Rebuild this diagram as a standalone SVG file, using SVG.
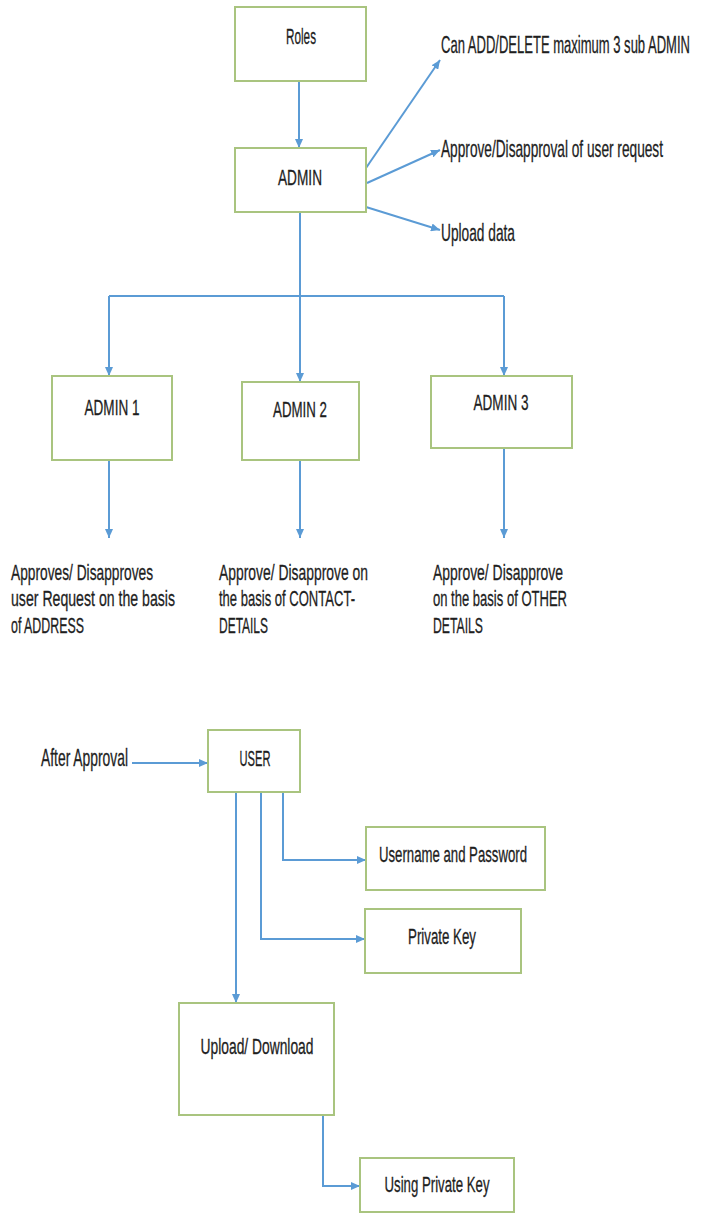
<svg xmlns="http://www.w3.org/2000/svg" width="707" height="1224" viewBox="0 0 707 1224">
<style>
.box{fill:#fff;stroke:#a9c47f;stroke-width:2}
.conn{fill:none;stroke:#5b9bd5;stroke-width:2}
.arr{marker-end:url(#ah)}
text{font-family:"Liberation Sans",Arial,sans-serif;font-size:22px;fill:#1e1e1e;stroke:#1e1e1e;stroke-width:0.3}
.c{text-anchor:middle}
.big{font-size:24px}
.d{font-size:22px}
</style>
<defs>
<marker id="ah" markerWidth="9" markerHeight="8" refX="9" refY="4" orient="auto" markerUnits="userSpaceOnUse">
<path d="M0,0 L9,4 L0,8 Z" fill="#5b9bd5"/>
</marker>
</defs>
<g id="connectors">
<path class="conn arr" d="M299 81 V148"/>
<path class="conn arr" d="M366 168 L440 60"/>
<path class="conn arr" d="M367 183 L440 150"/>
<path class="conn arr" d="M366 207 L440 230"/>
<path class="conn" d="M300 212 V296 M109 296 H504"/>
<path class="conn arr" d="M109 296 V376"/>
<path class="conn arr" d="M300 296 V382"/>
<path class="conn arr" d="M504 296 V376"/>
<path class="conn arr" d="M109 460 V538"/>
<path class="conn arr" d="M300 460 V538"/>
<path class="conn arr" d="M504 448 V538"/>
<path class="conn arr" d="M132 763 H208"/>
<path class="conn arr" d="M236 792 V1003"/>
<path class="conn arr" d="M249 792 H261 V939 H365"/>
<path class="conn arr" d="M283 792 V860 H366"/>
<path class="conn arr" d="M288 1115 H323 V1186 H360"/>
</g>
<g id="roles"><rect class="box" x="235" y="7" width="131" height="74"/><text class="c" transform="translate(301,44) scale(0.65,1)" textLength="46.2" lengthAdjust="spacingAndGlyphs">Roles</text></g>
<g id="admin"><rect class="box" x="235" y="148" width="131" height="64"/><text class="c" transform="translate(300,185) scale(0.65,1)" textLength="67.7" lengthAdjust="spacingAndGlyphs">ADMIN</text></g>
<g id="lbl-add"><text class="big" transform="translate(441,53) scale(0.55,1)" textLength="452.7" lengthAdjust="spacingAndGlyphs">Can ADD/DELETE maximum 3 sub ADMIN</text></g>
<g id="lbl-approve"><text class="big" transform="translate(441,157) scale(0.6,1)" textLength="370" lengthAdjust="spacingAndGlyphs">Approve/Disapproval of user request</text></g>
<g id="lbl-upload"><text class="big" transform="translate(441,241) scale(0.65,1)" textLength="113.8" lengthAdjust="spacingAndGlyphs">Upload data</text></g>
<g id="admin1"><rect class="box" x="52" y="376" width="120" height="84"/><text class="c" transform="translate(112,415) scale(0.65,1)" textLength="84.6" lengthAdjust="spacingAndGlyphs">ADMIN 1</text></g>
<g id="admin2"><rect class="box" x="242" y="382" width="117" height="78"/><text class="c" transform="translate(300,417) scale(0.65,1)" textLength="83.1" lengthAdjust="spacingAndGlyphs">ADMIN 2</text></g>
<g id="admin3"><rect class="box" x="431" y="376" width="141" height="72"/><text class="c" transform="translate(501,410) scale(0.65,1)" textLength="84.6" lengthAdjust="spacingAndGlyphs">ADMIN 3</text></g>
<g id="desc1">
<text class="d" transform="translate(11,580) scale(0.65,1)" textLength="218.5" lengthAdjust="spacingAndGlyphs">Approves/ Disapproves</text>
<text class="d" transform="translate(11,606) scale(0.65,1)" textLength="252.3" lengthAdjust="spacingAndGlyphs">user Request on the basis</text>
<text class="d" transform="translate(11,633) scale(0.65,1)" textLength="112.3" lengthAdjust="spacingAndGlyphs">of ADDRESS</text>
</g>
<g id="desc2">
<text class="d" transform="translate(219,580) scale(0.65,1)" textLength="229.2" lengthAdjust="spacingAndGlyphs">Approve/ Disapprove on</text>
<text class="d" transform="translate(219,606) scale(0.65,1)" textLength="209.2" lengthAdjust="spacingAndGlyphs">the basis of CONTACT-</text>
<text class="d" transform="translate(219,633) scale(0.65,1)" textLength="75.4" lengthAdjust="spacingAndGlyphs">DETAILS</text>
</g>
<g id="desc3">
<text class="d" transform="translate(433,580) scale(0.65,1)" textLength="200" lengthAdjust="spacingAndGlyphs">Approve/ Disapprove</text>
<text class="d" transform="translate(433,606) scale(0.65,1)" textLength="206.2" lengthAdjust="spacingAndGlyphs">on the basis of OTHER</text>
<text class="d" transform="translate(433,633) scale(0.65,1)" textLength="76.9" lengthAdjust="spacingAndGlyphs">DETAILS</text>
</g>
<g id="after-approval"><text class="big" transform="translate(41,766) scale(0.65,1)" textLength="133.8" lengthAdjust="spacingAndGlyphs">After Approval</text></g>
<g id="user"><rect class="box" x="208" y="730" width="92" height="62"/><text class="c" transform="translate(255,766) scale(0.65,1)" textLength="47.7" lengthAdjust="spacingAndGlyphs">USER</text></g>
<g id="username"><rect class="box" x="366" y="827" width="179" height="63"/><text class="c" transform="translate(453,862) scale(0.65,1)" textLength="227.7" lengthAdjust="spacingAndGlyphs">Username and Password</text></g>
<g id="private-key"><rect class="box" x="365" y="909" width="156" height="64"/><text class="c" transform="translate(442,944) scale(0.65,1)" textLength="104.6" lengthAdjust="spacingAndGlyphs">Private Key</text></g>
<g id="upload-download"><rect class="box" x="179" y="1003" width="155" height="112"/><text class="c" transform="translate(257,1054) scale(0.65,1)" textLength="173.8" lengthAdjust="spacingAndGlyphs">Upload/ Download</text></g>
<g id="using-private-key"><rect class="box" x="360" y="1158" width="154" height="54"/><text class="c" transform="translate(437,1192) scale(0.65,1)" textLength="161.5" lengthAdjust="spacingAndGlyphs">Using Private Key</text></g>
</svg>
